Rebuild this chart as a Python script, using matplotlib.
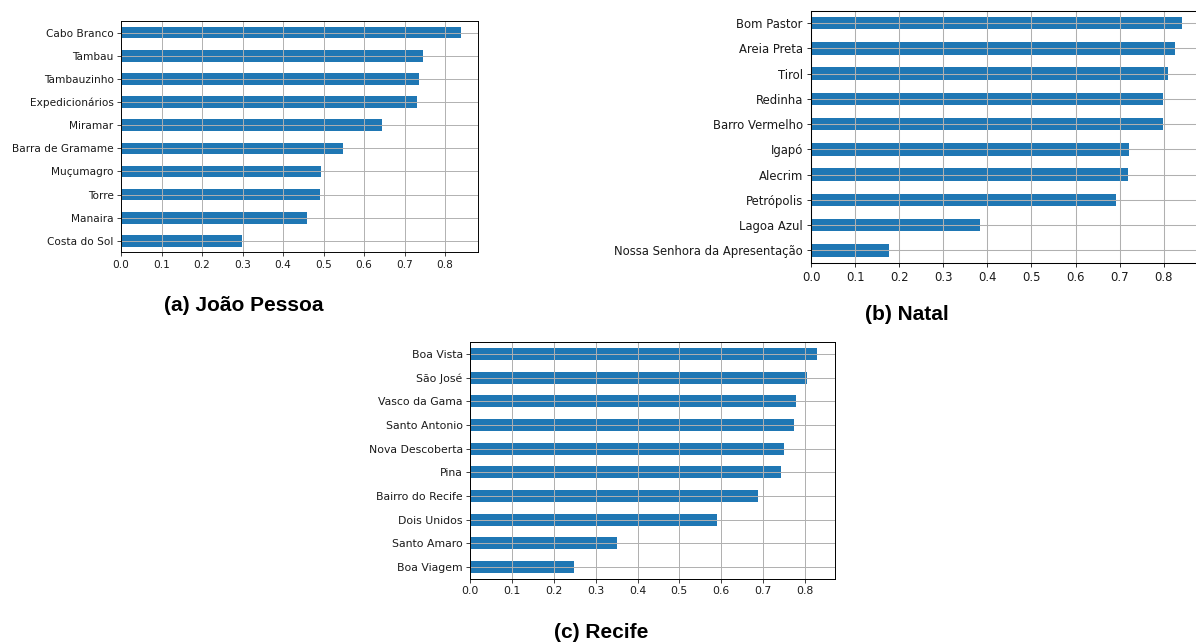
import matplotlib
matplotlib.use("Agg")
import matplotlib.pyplot as plt

# Neighbourhood scores per city (listed top to bottom)
jp_names = ["Cabo Branco", "Tambau", "Tambauzinho", "Expedicionários", "Miramar",
            "Barra de Gramame", "Muçumagro", "Torre", "Manaira", "Costa do Sol"]
jp_values = [0.840, 0.745, 0.735, 0.730, 0.644, 0.547, 0.493, 0.491, 0.459, 0.299]

natal_names = ["Bom Pastor", "Areia Preta", "Tirol", "Redinha", "Barro Vermelho",
               "Igapó", "Alecrim", "Petrópolis", "Lagoa Azul",
               "Nossa Senhora da Apresentação"]
natal_values = [0.841, 0.825, 0.810, 0.798, 0.798, 0.721, 0.719, 0.692, 0.383, 0.177]

recife_names = ["Boa Vista", "São José", "Vasco da Gama", "Santo Antonio",
                "Nova Descoberta", "Pina", "Bairro do Recife", "Dois Unidos",
                "Santo Amaro", "Boa Viagem"]
recife_values = [0.830, 0.806, 0.780, 0.774, 0.751, 0.744, 0.689, 0.589, 0.350, 0.249]

titles = ["(a) João Pessoa", "(b) Natal", "(c) Recife"]
xticks = [0.0, 0.1, 0.2, 0.3, 0.4, 0.5, 0.6, 0.7, 0.8]

W, H = 1196, 644
fig = plt.figure(figsize=(W / 100, H / 100), dpi=100)


def px_axes(left, top, right, bottom):
    return fig.add_axes([left / W, 1 - bottom / H, (right - left) / W, (bottom - top) / H])


def draw(ax, names, values, fs, scale):
    n = len(names)
    ypos = list(range(n))
    ax.barh(ypos, values[::-1], height=0.5, color="#1f77b4", zorder=1)
    ax.set_yticks(ypos)
    ax.set_yticklabels(names[::-1])
    ax.set_ylim(-0.5, n - 0.5)
    ax.set_xlim(0, max(values) * 1.05)
    ax.set_xticks(xticks)
    ax.set_xticklabels([f"{t:.1f}" for t in xticks])
    ax.grid(True, color="#b0b0b0", linewidth=0.9 * scale, zorder=1.5)
    ax.set_axisbelow(False)
    ax.tick_params(labelsize=fs, length=3.5 * scale, width=0.8 * scale,
                   pad=3.5 * scale, colors="#262626", labelcolor="#1a1a1a")
    for s in ax.spines.values():
        s.set_linewidth(0.9 * scale)
        s.set_zorder(3)


ax_a = px_axes(121, 21, 478.3, 252.5)
draw(ax_a, jp_names, jp_values, 7.6, 0.76)

ax_b = px_axes(811, 10.5, 811 + 0.883 * 441, 263)
draw(ax_b, natal_names, natal_values, 8.4, 0.84)

ax_c = px_axes(470.3, 342.3, 834.7, 578.7)
draw(ax_c, recife_names, recife_values, 7.85, 0.78)

title_kw = dict(ha="center", va="center", fontsize=15, fontweight="bold",
                family="Liberation Sans", color="black")
fig.text(244 / W, 1 - 306 / H, titles[0], **title_kw)
fig.text(906.5 / W, 1 - 315 / H, titles[1], **title_kw)
fig.text(601 / W, 1 - 633 / H, titles[2], **title_kw)

fig.savefig("out.png", dpi=100)
